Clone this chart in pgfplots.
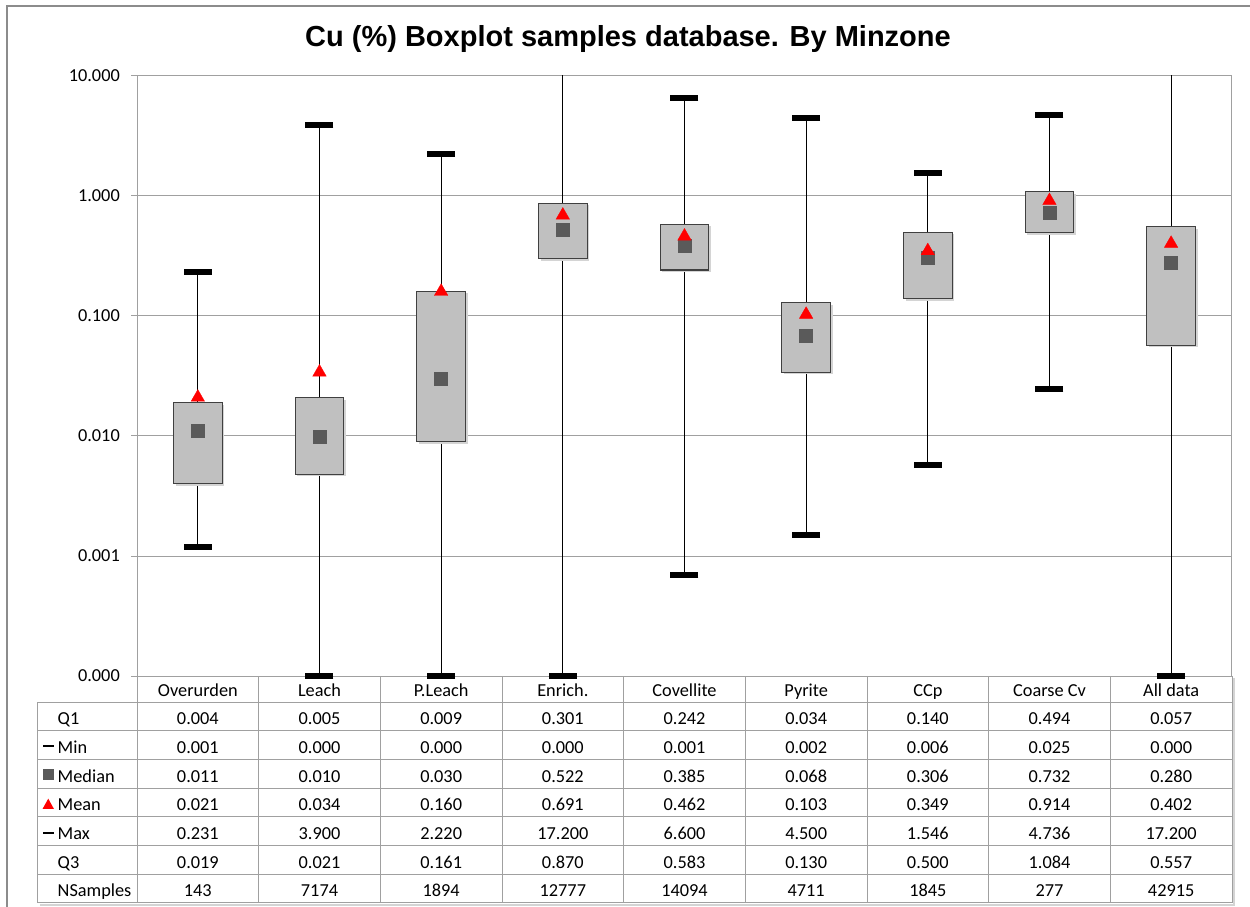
\documentclass[border=0pt]{standalone}
\usepackage{fontspec}
\setmainfont{Carlito}
\newfontfamily\titlefont{Liberation Sans}
\usepackage{pgfplots}
\pgfplotsset{compat=1.18}
\usepackage{pgfplotstable}
\usepgfplotslibrary{statistics}

\definecolor{boxfill}{HTML}{C0C0C0}
\definecolor{boxedge}{HTML}{404040}
\definecolor{medgray}{HTML}{5A5A5A}
\definecolor{gridgray}{HTML}{A0A0A0}
\definecolor{framegray}{HTML}{8C8C8C}
\definecolor{shadowgray}{HTML}{D4D4D4}

% x = category position; lw = min, lq = Q1, md = median, mn = mean, uq = Q3, uw = max
% cap = visible max cap (17.2 lies above the axis)
\pgfplotstableread{
x  lw     lq     md     mn     uq     uw     cap
1  0.0012 0.004  0.011  0.021  0.019  0.231  0.231
2  0.0001 0.0048 0.0098 0.034  0.021  3.9    3.9
3  0.0001 0.009  0.030  0.160  0.161  2.22   2.22
4  0.0001 0.301  0.522  0.691  0.870  17.2   nan
5  0.0007 0.242  0.385  0.462  0.583  6.6    6.6
6  0.0015 0.034  0.068  0.103  0.130  4.5    4.5
7  0.0057 0.140  0.306  0.349  0.500  1.546  1.546
8  0.0245 0.494  0.732  0.914  1.084  4.736  4.736
9  0.0001 0.057  0.280  0.402  0.557  17.2   nan
}\stats

\begin{document}
\begin{tikzpicture}
\useasboundingbox (0,0) rectangle (1250pt,907pt);
\begin{axis}[
  at={(137pt,231pt)}, anchor=south west,
  width=1095pt, height=600pt, scale only axis,
  xmin=0.5, xmax=9.5, xtick=\empty,
  ymode=log, ymin=1e-4, ymax=10,
  ytick={1e-4,1e-3,1e-2,1e-1,1,10},
  yticklabels={0.000,0.001,0.010,0.100,1.000,10.000},
  yminorticks=false,
  ymajorgrids, grid style={gridgray, line width=1pt},
  axis line style={gridgray, line width=1pt},
  ytick pos=left, tick align=outside, major tick length=6pt,
  tick style={gridgray, line width=1pt},
  every y tick label/.append style={font=\fontsize{18.3}{20}\selectfont, text=black, anchor=east, inner sep=0pt},
  yticklabel style={font=\fontsize{18.3}{20}\selectfont, text=black, xshift=-11pt},
  clip marker paths=false,
  unbounded coords=discard,
  boxplot/draw direction=y,
  boxplot/every box/.style={draw=boxedge, line width=1.2pt, fill=boxfill,
     preaction={draw=none, fill=shadowgray, transform canvas={xshift=2.2pt,yshift=-2.2pt}}},
  boxplot/every whisker/.style={draw=black, line width=1.1pt},
  boxplot/every median/.style={draw=none},
]
\pgfplotsinvokeforeach{0,...,8}{
  \pgfplotstablegetelem{#1}{lw}\of\stats \edef\vlw{\pgfplotsretval}
  \pgfplotstablegetelem{#1}{lq}\of\stats \edef\vlq{\pgfplotsretval}
  \pgfplotstablegetelem{#1}{md}\of\stats \edef\vmd{\pgfplotsretval}
  \pgfplotstablegetelem{#1}{uq}\of\stats \edef\vuq{\pgfplotsretval}
  \pgfplotstablegetelem{#1}{uw}\of\stats \edef\vuw{\pgfplotsretval}
  \edef\doplot{\noexpand\addplot[boxplot prepared={draw position=#1+1,
      lower whisker=\vlw, lower quartile=\vlq, median=\vmd,
      upper quartile=\vuq, upper whisker=\vuw,
      box extend=0.4, whisker extend=0}] coordinates {};}
  \doplot
}
\addplot[only marks, mark=-, mark size=14pt, mark options={line width=6pt, draw=black}] table[x=x, y=lw] {\stats};
\addplot[only marks, mark=-, mark size=14pt, mark options={line width=6pt, draw=black}] table[x=x, y=cap] {\stats};
\addplot[only marks, mark=square*, mark size=6.5pt, mark options={fill=medgray, draw=medgray, line width=0.5pt}] table[x=x, y=md] {\stats};
\addplot[only marks, mark=triangle*, mark size=7.8pt, mark options={fill=red, draw=red, line width=0.3pt}] table[x=x, y=mn] {\stats};
\end{axis}

\begin{scope}[x=1pt, y=-1pt, yshift=907pt,
  every node/.style={inner sep=0pt, font=\fontsize{18.3}{20}\selectfont}]
  % outer frame
  \draw[framegray, line width=1.2pt] (7,915) -- (7,6) -- (1260,6);
  % title
  \node[anchor=base, font=\titlefont\bfseries\fontsize{29}{33}\selectfont] at (628,46.7) {Cu (\%) Boxplot samples database. By Minzone};
  % table shadow
  \draw[shadowgray, line width=1.5pt] (1234,678) -- (1234,905) -- (40,905);
  % table grid
  \foreach \yy in {702.3,730.9,759.6,788.2,816.8,845.5,874.1,902.7}
    \draw[gridgray, line width=1pt] (37.5,\yy) -- (1232,\yy);
  \foreach \k in {0,...,9}
    \draw[gridgray, line width=1pt] ({137+121.667*\k},676) -- ({137+121.667*\k},902.7);
  \draw[gridgray, line width=1pt] (37.5,702.3) -- (37.5,902.7);
  % header
  \foreach \t [count=\i from 0] in {Overurden,Leach,P.Leach,Enrich.,Covellite,Pyrite,CCp,Coarse Cv,All data}
    \node[anchor=base] at ({137+121.667*(\i+0.5)},696.5) {\t};
  % row labels
  \foreach \t [count=\i from 0] in {Q1,Min,Median,Mean,Max,Q3,NSamples}
    \node[anchor=base west] at (57.5,{725+28.63*\i}) {\t};
  % row label symbols
  \fill[black] (43,744.7) rectangle (54,747.5);
  \fill[medgray] (43,769.5) rectangle (54,780);
  \fill[red] (42.5,809) -- (54,809) -- (48.25,798.7) -- cycle;
  \fill[black] (43,831.7) rectangle (54,834.5);
  % values
  \foreach \v [count=\i from 0] in {0.004,0.005,0.009,0.301,0.242,0.034,0.140,0.494,0.057}
    \node[anchor=base] at ({137+121.667*(\i+0.5)},725) {\v};
  \foreach \v [count=\i from 0] in {0.001,0.000,0.000,0.000,0.001,0.002,0.006,0.025,0.000}
    \node[anchor=base] at ({137+121.667*(\i+0.5)},753.6) {\v};
  \foreach \v [count=\i from 0] in {0.011,0.010,0.030,0.522,0.385,0.068,0.306,0.732,0.280}
    \node[anchor=base] at ({137+121.667*(\i+0.5)},782.3) {\v};
  \foreach \v [count=\i from 0] in {0.021,0.034,0.160,0.691,0.462,0.103,0.349,0.914,0.402}
    \node[anchor=base] at ({137+121.667*(\i+0.5)},810.9) {\v};
  \foreach \v [count=\i from 0] in {0.231,3.900,2.220,17.200,6.600,4.500,1.546,4.736,17.200}
    \node[anchor=base] at ({137+121.667*(\i+0.5)},839.5) {\v};
  \foreach \v [count=\i from 0] in {0.019,0.021,0.161,0.870,0.583,0.130,0.500,1.084,0.557}
    \node[anchor=base] at ({137+121.667*(\i+0.5)},868.2) {\v};
  \foreach \v [count=\i from 0] in {143,7174,1894,12777,14094,4711,1845,277,42915}
    \node[anchor=base] at ({137+121.667*(\i+0.5)},896.8) {\v};
\end{scope}
\end{tikzpicture}
\end{document}
